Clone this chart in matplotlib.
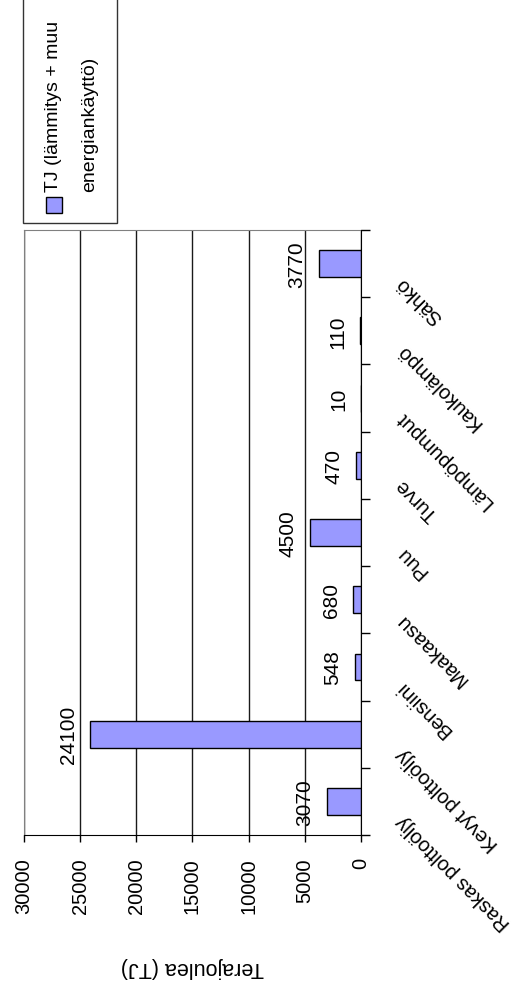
import matplotlib
matplotlib.use("Agg")
import matplotlib.pyplot as plt
import matplotlib.patches as mpatches
from matplotlib.transforms import offset_copy
import numpy as np

plt.rcParams["font.family"] = ["Liberation Sans", "DejaVu Sans"]

# energy use by source, terajoules
categories = ["Raskas polttoöljy", "Kevyt polttoöljy", "Bensiini", "Maakaasu",
              "Puu", "Turve", "Lämpöpumput", "Kaukolämpö", "Sähkö"]
values = [3070, 24100, 548, 680, 4500, 470, 10, 110, 3770]
value_ticks = [0, 5000, 10000, 15000, 20000, 25000, 30000]
series_name = ["TJ (lämmitys + muu", "energiankäyttö)"]
axis_title = "Terajoulea (TJ)"

W, H = 521, 995
fig = plt.figure(figsize=(W / 100, H / 100), dpi=100)
ax = fig.add_axes([24 / W, 1 - 836 / H, 337 / W, 605 / H])

y = np.arange(len(categories))
ax.barh(y, values, height=0.4, color="#9999FF", edgecolor="black", linewidth=1, zorder=3)

ax.set_xlim(30000, 0)
ax.set_ylim(-0.5, len(categories) - 0.5)
ax.set_xticks(value_ticks)
ax.set_xticklabels([str(v) for v in value_ticks])
ax.tick_params(axis="x", direction="out", length=5, width=1, pad=11,
               labelrotation=90, labelsize=14.5, color="black")

ax.yaxis.tick_right()
ax.set_yticks(np.arange(-0.5, len(categories), 1))
ax.set_yticklabels([])
ax.tick_params(axis="y", direction="out", length=6.5, width=1, color="black")

ax.set_axisbelow(True)
ax.xaxis.grid(True, color="#1a1a1a", linewidth=1)
for side in ["left", "top"]:
    ax.spines[side].set_color("#808080")
for side in ["right", "bottom"]:
    ax.spines[side].set_color("black")
    ax.spines[side].set_zorder(4)

# value labels next to the bar ends
for i, v in enumerate(values):
    ax.annotate(str(v), xy=(v, i), xytext=(-9, 0), textcoords="offset points",
                rotation=90, ha="right", va="center", fontsize=15)

# slanted category names right of the axis
trans = offset_copy(ax.get_yaxis_transform(), fig=fig, y=-16, units="dots")
for i, name in enumerate(categories):
    ax.text((399 - 24) / 337, i, name, transform=trans, rotation=135,
            rotation_mode="anchor", ha="right", va="center", fontsize=14.5)

fig.text(192 / W, 1 - 968 / H, axis_title, rotation=180, ha="center",
         va="center", fontsize=15.5)

# legend box
fig.patches.append(mpatches.Rectangle((23 / W, 1 - 224 / H), 94 / W, 240 / H,
                                      transform=fig.transFigure, facecolor="white",
                                      edgecolor="#333333", linewidth=1))
fig.patches.append(mpatches.Rectangle((46 / W, 1 - 214 / H), 16 / W, 16 / H,
                                      transform=fig.transFigure, facecolor="#9999FF",
                                      edgecolor="black", linewidth=1))
fig.text(54 / W, 1 - 192 / H, series_name[0], rotation=90, ha="center",
         va="bottom", fontsize=14)
fig.text(90 / W, 1 - 192 / H, series_name[1], rotation=90, ha="center",
         va="bottom", fontsize=14)

fig.savefig("out.png", dpi=100)
